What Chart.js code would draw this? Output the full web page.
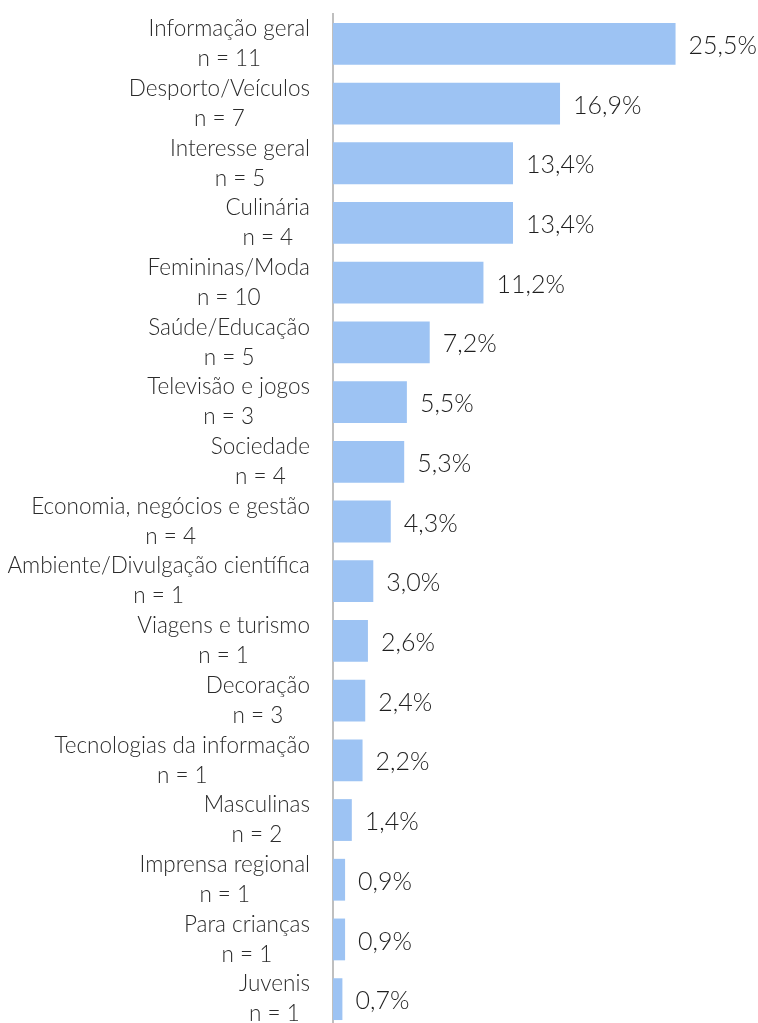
<!DOCTYPE html>
<html lang="pt">
<head>
<meta charset="utf-8">
<title>Distribuição por segmento</title>
<script src="https://cdn.jsdelivr.net/npm/chart.js@4.4.1/dist/chart.umd.min.js"></script>
<style>
    html, body { margin: 0; padding: 0; background: #fff; overflow: hidden; }
    .wrap { position: relative; width: 758px; height: 1029px; }
</style>
</head>
<body>
<div class="wrap"><canvas id="chart"></canvas></div>
<script>
// Categories, sample sizes and shares (%)
const categories = [
    'Informação geral', 'Desporto/Veículos', 'Interesse geral', 'Culinária',
    'Femininas/Moda', 'Saúde/Educação', 'Televisão e jogos', 'Sociedade',
    'Economia, negócios e gestão', 'Ambiente/Divulgação científica',
    'Viagens e turismo', 'Decoração', 'Tecnologias da informação',
    'Masculinas', 'Imprensa regional', 'Para crianças', 'Juvenis'
];
const sampleSizes = [11, 7, 5, 4, 10, 5, 3, 4, 4, 1, 1, 3, 1, 2, 1, 1, 1];
const shares = [25.5, 16.9, 13.4, 13.4, 11.2, 7.2, 5.5, 5.3, 4.3, 3.0, 2.6, 2.4, 2.2, 1.4, 0.9, 0.9, 0.7];

const FONT = 'Lato, "Open Sans", sans-serif';
const TEXT_COLOR = '#2b2b2b';

// two-line category labels, each line centred inside a right-aligned block
const categoryLabels = {
    id: 'categoryLabels',
    afterDraw(chart) {
        const ctx = chart.ctx;
        const y = chart.scales.y;
        const right = y.right - 23;
        ctx.save();
        ctx.font = '300 22.5px ' + FONT;
        ctx.fillStyle = TEXT_COLOR;
        ctx.textAlign = 'center';
        ctx.textBaseline = 'middle';
        categories.forEach((name, i) => {
            const lines = [name, 'n = ' + sampleSizes[i]];
            const w = Math.max(...lines.map(l => ctx.measureText(l).width));
            const cx = right - w / 2;
            const cy = y.getPixelForTick(i);
            ctx.fillText(lines[0], cx, cy - 15);
            ctx.fillText(lines[1], cx, cy + 15);
        });
        ctx.restore();
    }
};

// percentage labels at the end of each bar
const valueLabels = {
    id: 'valueLabels',
    afterDatasetsDraw(chart) {
        const ctx = chart.ctx;
        const meta = chart.getDatasetMeta(0);
        ctx.save();
        ctx.font = '300 25px ' + FONT;
        ctx.fillStyle = '#1f1f1f';
        ctx.textAlign = 'left';
        ctx.textBaseline = 'middle';
        meta.data.forEach((bar, i) => {
            const txt = shares[i].toFixed(1).replace('.', ',') + '%';
            ctx.fillText(txt, bar.x + 13, bar.y + 2);
        });
        ctx.restore();
    }
};

new Chart(document.getElementById('chart'), {
    type: 'bar',
    data: {
        labels: categories,
        datasets: [{
            data: shares,
            backgroundColor: '#9dc3f3',
            borderWidth: 0,
            barPercentage: 0.7,
            categoryPercentage: 1.0
        }]
    },
    options: {
        indexAxis: 'y',
        responsive: true,
        maintainAspectRatio: false,
        animation: false,
        layout: { padding: { left: 0, right: 22, top: 14, bottom: 0 } },
        plugins: {
            legend: { display: false },
            tooltip: { enabled: false }
        },
        scales: {
            x: {
                display: false,
                min: 0,
                max: 30
            },
            y: {
                grid: { display: false, drawTicks: false },
                border: { display: true, color: '#bfbfbf', width: 2 },
                ticks: { display: false },
                afterFit(scale) { scale.width = 333; }
            }
        }
    },
    plugins: [categoryLabels, valueLabels]
});
</script>
</body>
</html>
